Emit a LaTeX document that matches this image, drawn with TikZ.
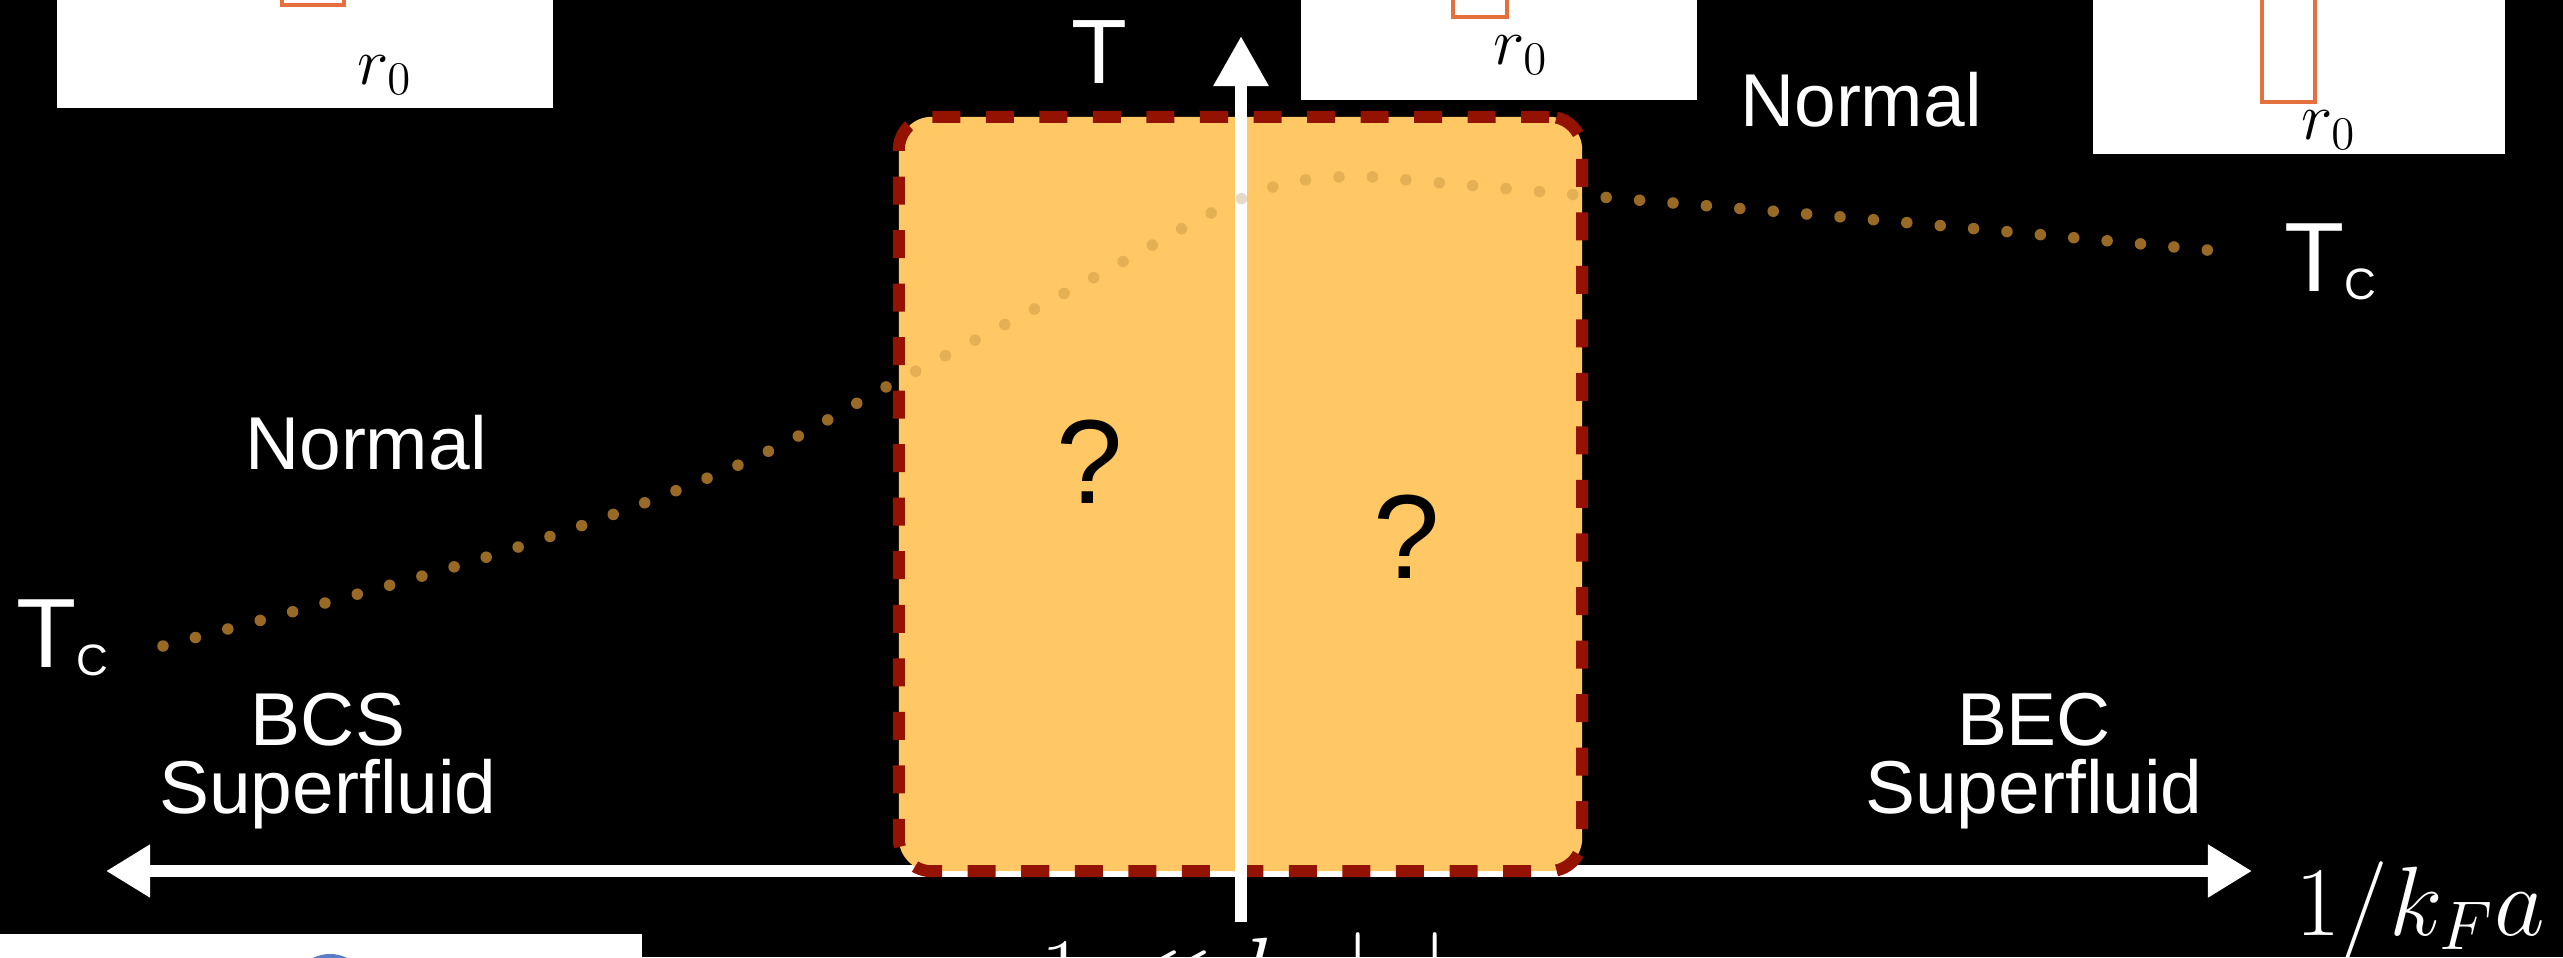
\RequirePackage{fix-cm}
\documentclass[tikz,border=0pt]{standalone}
\usepackage[no-math]{fontspec}
\setmainfont{Liberation Sans}
\usetikzlibrary{arrows.meta}
\definecolor{windoworange}{RGB}{255, 200, 100}
\definecolor{dashred}{RGB}{148, 18, 0}
\definecolor{tcbrown}{RGB}{152, 106, 38}
\definecolor{barorange}{RGB}{228, 112, 62}
\definecolor{circblue}{RGB}{90, 125, 200}
\newcommand{\tcname}{T\raisebox{-0.08cm}{\fontsize{12.5}{12.5}\selectfont C}}
\tikzset{
    lbl/.style={text=white, inner sep=0pt, align=center, font=\fontsize{21.3}{19.5}\selectfont},
    qmark/.style={text=black, inner sep=0pt, font=\fontsize{34}{34}\selectfont},
    tlbl/.style={text=white, inner sep=0pt, font=\fontsize{26}{26}\selectfont},
    tclbl/.style={text=white, inner sep=0pt, anchor=base west, font=\fontsize{28}{28}\selectfont},
    mathlbl/.style={text=white, inner sep=0pt, anchor=base west, font=\fontsize{28}{30}\selectfont},
    rlbl/.style={text=black, inner sep=0pt, font=\fontsize{19}{21}\selectfont},
    axis/.style={white, line width=0.115cm},
    tcdots/.style={line width=0.115cm, line cap=round, dash pattern=on 0pt off 0.335cm},
    slidebox/.style={fill=white},
    sizebar/.style={draw=barorange, line width=0.045cm},
    window/.style={draw=dashred, fill=windoworange, line width=0.12cm,
        dash pattern=on 0.28cm off 0.255cm, rounded corners=0.33cm,
        minimum width=6.83cm, minimum height=7.54cm, inner sep=0pt}
}
\begin{document}
\begin{tikzpicture}[x=0.01cm, y=-0.01cm]
    \useasboundingbox (0,0) rectangle (2563,957);
    \clip (0,0) rectangle (2563,957);
    \fill[black] (0,0) rectangle (2563,957);

    % cut-off insets at the slide edges
    \fill[slidebox] (57,-10) rectangle (553,108);
    \draw[sizebar] (282,-60) rectangle (344,5);
    \node[rlbl] (rzeroA) at (385,75) {$r_0$};
    \fill[slidebox] (1301,-10) rectangle (1697,100);
    \draw[sizebar] (1453,-60) rectangle (1507,17);
    \node[rlbl] (rzeroB) at (1521,55) {$r_0$};
    \fill[slidebox] (2093,-10) rectangle (2505,154);
    \draw[sizebar] (2262,-60) rectangle (2315,102);
    \node[rlbl] (rzeroC) at (2329,130) {$r_0$};
    \fill[slidebox] (-10,934) rectangle (642,967);
    \draw[circblue, line width=0.04cm] (330,992) circle (0.36cm);

    % horizontal axis
    \coordinate (xl) at (106,871);
    \coordinate (xr) at (2252,871);
    \draw[axis, {Triangle[length=0.44cm,width=0.5cm]}-{Triangle[length=0.44cm,width=0.5cm]}] (xl) -- (xr);

    % T_c line
    \draw[tcdots, tcbrown] plot[smooth, tension=0.6] coordinates {(163,646) (490,556) (736,466) (899,380) (1080,285) (1243,198) (1338,177) (1441,183) (1601,197) (1900,222) (2239,253)};

    \node[window] (window) at (1240.5,494) {};

    % vertical axis
    \coordinate (yb) at (1241,922);
    \coordinate (yt) at (1241,36);
    \draw[axis, line width=0.12cm, -{Triangle[length=0.5cm,width=0.52cm]}] (yb) -- (yt);

    \begin{scope}
        \clip[rounded corners=0.33cm] (window.south west) rectangle (window.north east);
        \draw[tcdots, tcbrown, opacity=0.25] plot[smooth, tension=0.6] coordinates {(163,646) (490,556) (736,466) (899,380) (1080,285) (1243,198) (1338,177) (1441,183) (1601,197) (1900,222) (2239,253)};
    \end{scope}

    \node[lbl] (normalL) at (366,443) {Normal};
    \node[lbl] (normalR) at (1861,100) {Normal};
    \node[lbl, anchor=north] (bcs) at (328,692) {BCS\\Superfluid};
    \node[lbl, anchor=north] (bec) at (2034,692) {BEC\\Superfluid};
    \node[qmark] (qA) at (1090,462) {?};
    \node[qmark] (qB) at (1407,537) {?};
    \node[tlbl] (tlabel) at (1099,52) {T};
    \node[tclbl] (tcL) at (16,667) {\tcname};
    \node[tclbl] (tcR) at (2284,291) {\tcname};
    \node[mathlbl] (xlabel) at (2295,935) {$1/k_Fa$};
    \node[mathlbl] (regime) at (1040,1006) {$1 \ll k_F|a|$};
\end{tikzpicture}
\end{document}
